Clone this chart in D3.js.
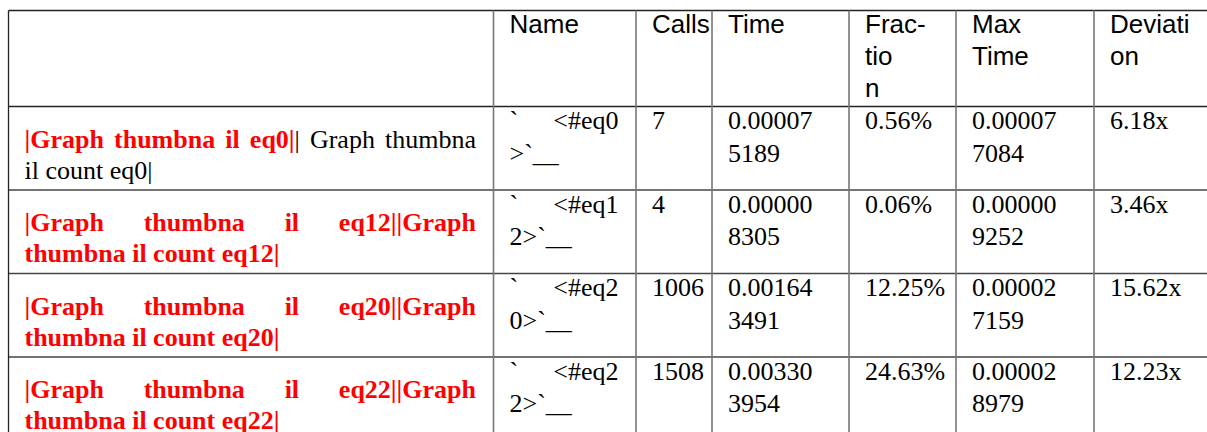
<!DOCTYPE html>
<html>
<head>
<meta charset="utf-8">
<script src="https://cdn.jsdelivr.net/npm/d3@7"></script>
<style>
  html, body { margin: 0; padding: 0; background: #fff; }
  svg { display: block; }
  text { white-space: pre; }
</style>
</head>
<body>
<div id="chart"></div>
<script>
// ---------- data ----------
const headers = [[""], ["Name"], ["Calls"], ["Time"], ["Frac-", "tio", "n"], ["Max", "Time"], ["Deviati", "on"]];

// first column: lines, each line = list of [text, style] segments ("hi" = red bold, "lo" = normal)
const labels = [
  [[["|Graph thumbna il eq0|", "hi"], ["| Graph thumbna", "lo"]], [["il count eq0|", "lo"]]],
  [[["|Graph thumbna il eq12||Graph", "hi"]], [["thumbna il count eq12|", "hi"]]],
  [[["|Graph thumbna il eq20||Graph", "hi"]], [["thumbna il count eq20|", "hi"]]],
  [[["|Graph thumbna il eq22||Graph", "hi"]], [["thumbna il count eq22|", "hi"]]]
];
const names = ["` <#eq0>`__", "` <#eq12>`__", "` <#eq20>`__", "` <#eq22>`__"];
const calls = ["7", "4", "1006", "1508"];
const times = ["0.000075189", "0.000008305", "0.001643491", "0.003303954"];
const fractions = ["0.56%", "0.06%", "12.25%", "24.63%"];
const maxTimes = ["0.000077084", "0.000009252", "0.000027159", "0.000028979"];
const deviations = ["6.18x", "3.46x", "15.62x", "12.23x"];

// ---------- layout ----------
const W = 1207, H = 432;
const colEdges = [8.5, 493.5, 636, 712, 849, 956, 1094, 1300];
const tableTop = 10.5, headerH = 96, rowH = 83.5;
const padL = 16, padR = 17.5;
const chunkSize = 7;
const serif = "'Liberation Serif', 'Times New Roman', serif";
const sans = "'Liberation Sans', Arial, sans-serif";
const fs = 26;

const svg = d3.select("#chart").append("svg").attr("width", W).attr("height", H);

const colIdx = d3.range(colEdges.length - 1);
const xLeft = d3.scaleOrdinal().domain(colIdx).range(colEdges.slice(0, -1));
const xRight = d3.scaleOrdinal().domain(colIdx).range(colEdges.slice(1));
const nRows = labels.length;
const yRow = d3.scaleBand().domain(d3.range(nRows))
  .range([tableTop + headerH, tableTop + headerH + rowH * nRows]).paddingInner(0).paddingOuter(0);

// ---------- grid ----------
const hLines = [tableTop].concat(d3.range(nRows).map(i => yRow(i)));
svg.append("g").selectAll("line").data(hLines).join("line")
  .attr("x1", colEdges[0]).attr("x2", W + 10)
  .attr("y1", d => d).attr("y2", d => d)
  .attr("stroke", (d, i) => i < 2 ? "#222" : "#444").attr("stroke-width", 1.3);
svg.append("g").selectAll("line").data(colEdges.slice(0, -1)).join("line")
  .attr("x1", d => d).attr("x2", d => d)
  .attr("y1", tableTop).attr("y2", H + 10)
  .attr("stroke", (d, i) => i === 0 ? "#222" : "#777").attr("stroke-width", (d, i) => i === 0 ? 1.3 : 1.6);

// ---------- text helpers ----------
const measurer = svg.append("text").attr("x", -1000).attr("y", -1000);
function styleSeg(sel, cls, family) {
  sel.attr("font-family", family).attr("font-size", fs)
    .attr("font-weight", cls === "hi" ? "bold" : "normal")
    .attr("fill", cls === "hi" ? "#ff0000" : "#000");
}
function measureWord(word, family) {
  measurer.selectAll("*").remove();
  word.forEach(s => styleSeg(measurer.append("tspan").text(s.t), s.cls, family));
  return measurer.node().getComputedTextLength();
}
function toWords(segs) {
  const words = [];
  let cur = [];
  segs.forEach(([txt, cls]) => {
    const parts = txt.split(" ");
    parts.forEach((p, k) => {
      if (k > 0) { if (cur.length) words.push(cur); cur = []; }
      if (p.length) cur.push({ t: p, cls });
    });
  });
  if (cur.length) words.push(cur);
  return words;
}
function drawLine(g, segs, x0, x1, y, justify, family) {
  const words = toWords(segs);
  if (justify && words.length > 1) {
    const ws = words.map(w => measureWord(w, family));
    const gap = (x1 - x0 - d3.sum(ws)) / (words.length - 1);
    let x = x0;
    words.forEach((w, k) => {
      const t = g.append("text").attr("x", x).attr("y", y);
      w.forEach(s => styleSeg(t.append("tspan").text(s.t), s.cls, family));
      x += ws[k] + gap;
    });
  } else {
    const t = g.append("text").attr("x", x0).attr("y", y);
    segs.forEach(([txt, cls]) => styleSeg(t.append("tspan").text(txt), cls, family));
  }
}
function chunk(str) {
  const out = [];
  for (let i = 0; i < str.length; i += chunkSize) out.push(str.slice(i, i + chunkSize));
  return out;
}

const gText = svg.append("g");

// ---------- header ----------
headers.forEach((lines, c) => {
  lines.forEach((ln, k) => {
    if (!ln) return;
    drawLine(gText, [[ln, "lo"]], xLeft(c) + padL, xRight(c) - padR, tableTop + 22.8 + k * 31.7, false, sans);
  });
});

// ---------- body ----------
const bodyCols = [names, calls, times, fractions, maxTimes, deviations];
d3.range(nRows).forEach(r => {
  const top = yRow(r);
  // first column (justified, red/black)
  const lines = labels[r];
  lines.forEach((segs, k) => {
    drawLine(gText, segs, xLeft(0) + padL, xRight(0) - padR, top + 41 + k * 31.3, k < lines.length - 1, serif);
  });
  bodyCols.forEach((col, ci) => {
    const c = ci + 1;
    const ls = chunk(col[r]);
    ls.forEach((ln, k) => {
      drawLine(gText, [[ln, "lo"]], xLeft(c) + padL, xRight(c) - padR, top + 22.7 + k * 32.3, k < ls.length - 1, serif);
    });
  });
});
measurer.remove();
</script>
</body>
</html>
